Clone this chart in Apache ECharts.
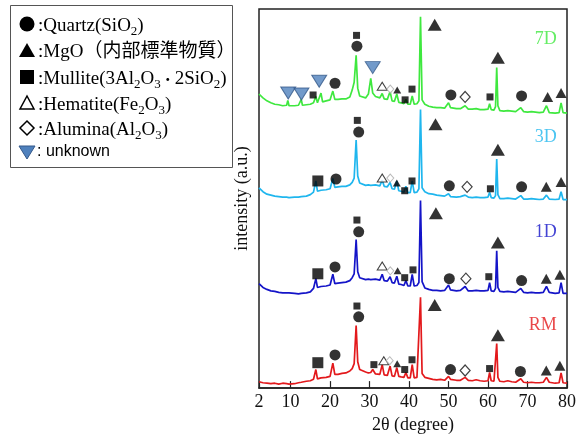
<!DOCTYPE html>
<html><head><meta charset="utf-8">
<script src="https://cdn.jsdelivr.net/npm/echarts@6/dist/echarts.min.js"></script>
<style>html,body{margin:0;padding:0;background:#fff}#c{width:579px;height:439px}</style>
</head><body><div id="c"></div>
<script>
// 2θ sample positions shared by every pattern
const twoTheta = [2,3,4,5,6,7,8,9,9.3,9.6,
 10,11,12,12.7,13,14,15,15.8,16.4,16.8,
 17.3,17.7,18.1,19,20,20.7,21.2,22,23,24,
 25,25.6,26.1,26.6,27.0,27.5,28,29,29.7,30.3,
 30.8,31.5,32,32.6,33.2,33.7,34.5,35.2,35.7,36.3,
 36.9,37.4,38,38.7,39.2,39.7,40.3,40.8,41.3,42,
 42.5,42.9,43.3,44,45,46,47,48,49,50,
 50.5,51,52,53,54.2,55,56,57,58,59,
 60,60.4,60.8,61.5,61.9,62.2,62.5,63,64,65,
 66,67,68.3,69,70,71,72,73,74,74.8,
 75.5,76,77,78,78.5,79,80];

const intensityRM = [6.5,5.5,5,4.5,5,4,5,4.5,5,4,
 5,4.5,5.5,6,5.5,7,7.5,9,19,9.5,
 10,10.5,10,11,12,25.5,14,14,15,15.5,
 17.5,20,25,64,27,19,17.5,16.5,15.5,16,
 19,14.5,14.5,14,24,13.5,13,22.5,12.5,12,
 21,12,11.5,11,16,10.5,10.5,24,10.5,11,
 13,93,15,11,10,9,8.5,9,8,12,
 9,8.5,8,8,11,8,7.5,8.5,7.5,7,
 7.5,16,7.5,7,9,45.5,11,7,6.5,7.5,
 6.5,6,9.5,6,5.5,6,5.5,5.5,6,11,
 6,5.5,5,5.5,15.5,5.5,5];

const intensity1D = [15,11,9,7.5,7,6,5.5,5.5,5,5.5,
 5,5,4.5,5,5,5.5,6.5,10,20,11,
 11.5,12,11.5,12.5,13.5,24.5,15,15.5,16,16.5,
 18,21,25,60,27,21,19.5,19,19.5,19,
 20,19.5,19,18.5,24.5,18,17.5,22,16,15.5,
 22.5,14.5,14,13,18,12.5,12.5,24.5,12.5,13,
 16,100,17,10.5,9,8,8,7.5,8,13.5,
 8.5,8,7.5,8,12,7.5,7.5,8,7.5,7.5,
 8,16,7.5,7,10,48.5,11,7,6.5,7,
 6.5,6,10,6,5.5,6,5.5,5.5,6,12,
 6,5.5,5,5.5,16,5,5];

const intensity3D = [19,15,12.5,11.5,10.5,10,9.5,9.5,10,9,
 9.5,9.5,9.5,10,10,10.5,12,14.5,26,15.5,
 16,16.5,16,17,18,28.5,19.5,20,20.5,20.5,
 22,24.5,29,68,31,24,22,21.5,22,21.5,
 22.5,22,21.5,21,27,20.5,20,24.5,18,17.5,
 26,16,15.5,14.5,20.5,14,14,26,14,14.5,
 18,99,19,15,13,12.5,11.5,11,10.5,13,
 10,9.5,9.5,10,11.5,9.5,9,9.5,9,9,
 9.5,14.5,9,8.5,11,48.5,12,8,8,8.5,
 8,7.5,11,7.5,7.5,8,7.5,7,7.5,11.5,
 7.5,7,7,7.5,15,7,7];

const intensity7D = [21,17,14,12,10.5,10,9,9.5,14.5,9,
 8.5,9,9.5,15.5,9.5,10,10.5,12,18.5,12,
 13,22,13,14,15,24,15.5,15.5,16,16,
 18,25,33,60.5,27,19,17.5,17,21,37,
 22,18.5,17.5,17,21.5,16,15.5,23.5,14,13.5,
 21,12.5,12,11,15.5,10.5,10.5,19,10.5,11,
 14,100,15,10.5,8.5,7.5,7,7,6.5,12,
 7,6.5,6,6,9,5.5,5.5,6,5,5,
 5.5,11,5,4.5,8,48,9,4,3.5,4,
 3.5,3,7,3,2.5,3,2.5,2,2.5,9,
 2,2,1.5,2,12,2,1.5];

const sampleNames = ['RM','1D','3D','7D'];
const sampleOffsets = [0, 92, 186, 280];
const sampleLabelLevel = [64, 67, 71, 77];
const sampleColors = ['#e3191c','#1414c8','#1fb6ee','#3fe83f'];

// phase markers: [2θ, height above own baseline, kind]
const marksRM = [[16.9,26,'sq'],[21.25,34,'ci'],[26.8,84,'sqs'],[27.25,73,'ci'],[31.1,24,'sqs'],
 [33.6,28,'otr'],[35.1,28,'dis'],[37,25,'trs'],[38.9,19,'sqs'],[40.75,29,'sqs'],
 [46.5,85,'tr'],[50.5,19,'ci'],[54.2,18,'di'],[60.4,20,'sqs'],[62.5,54,'tr'],
 [68.2,17,'ci'],[74.75,18,'trm'],[78.2,23,'trm']];
const marks1D = [[16.9,25,'sq'],[21.25,32,'ci'],[26.8,80,'sqs'],[27.25,68,'ci'],
 [33.2,33,'otr'],[35.25,28,'dis'],[37.1,28,'trs'],[38.9,21,'sqs'],[41,29,'sqs'],
 [46.8,87,'tr'],[50.2,20,'ci'],[54.4,20,'di'],[60.2,22,'sqs'],[62.5,57,'tr'],
 [68.5,18,'ci'],[74.75,20,'trm'],[78.2,24,'trm']];
const marks3D = [[16.9,26,'sq'],[21.5,28,'ci'],[26.9,88,'sqs'],[27.25,76,'ci'],
 [33.2,29,'otr'],[35.25,29,'dis'],[36.9,24,'trs'],[38.9,16,'sqs'],[40.75,26,'sqs'],
 [46.7,84,'tr'],[50.2,21,'ci'],[54.7,20,'di'],[60.6,18,'sqs'],[62.5,58,'tr'],
 [68.5,20,'ci'],[74.75,20,'trm'],[78.5,25,'trm']];
const marks7D = [[9.4,22,'unk'],[12.75,21,'unk'],[17.25,34,'unk'],[30.8,48,'unk'],
 [15.7,20,'sqs'],[21.25,32,'ci'],[26.7,81,'sqs'],[26.8,70,'ci'],
 [33.2,29,'otr'],[35.25,26,'dis'],[37,25,'trs'],[39,15,'sqs'],[40.75,26,'sqs'],
 [46.5,92,'tr'],[50.6,20,'ci'],[54.2,18,'di'],[60.5,18,'sqs'],[62.5,58,'tr'],
 [68.5,19,'ci'],[75.1,18,'trm'],[78.5,22,'trm']];

// legend entries ({s|n} = subscript, {d|・} = narrow middle dot)
const legendLines = [
  ':Quartz(SiO{s|2})',
  ':MgO（内部標準物質）',
  ':Mullite(3Al{s|2}O{s|3}{d|・}2SiO{s|2})',
  ':Hematite(Fe{s|2}O{s|3})',
  ':Alumina(Al{s|2}O{s|3})',
  ': unknown'
];
const xTicks = [2,10,20,30,40,50,60,70,80];

const intensities = [intensityRM, intensity1D, intensity3D, intensity7D];
const marks = [marksRM, marks1D, marks3D, marks7D];

const kindStyle = {
  ci:  {symbol:'circle', size:11, fill:'#000', stroke:'#000', lw:0},
  tr:  {symbol:'triangle', size:[14,12], fill:'#000', stroke:'#000', lw:0},
  trm: {symbol:'triangle', size:[11,10], fill:'#000', stroke:'#000', lw:0},
  trs: {symbol:'triangle', size:[8,7], fill:'#000', stroke:'#000', lw:0},
  sq:  {symbol:'rect', size:11, fill:'#000', stroke:'#000', lw:0},
  sqs: {symbol:'rect', size:7, fill:'#000', stroke:'#000', lw:0},
  otr: {symbol:'triangle', size:[10,8], fill:'#fff', stroke:'#111', lw:1},
  dis: {symbol:'diamond', size:[7,8], fill:'#fff', stroke:'#aaa', lw:1},
  di:  {symbol:'diamond', size:[10,11], fill:'#fff', stroke:'#111', lw:1.2},
  unk: {symbol:'triangle', size:[15,12], fill:'#4f81bd', stroke:'#35598a', lw:1, rotate:180}
};

const serif = 'Liberation Serif, Noto Sans CJK JP, serif';
const series = [];
intensities.forEach((arr, s) => {
  series.push({
    type:'line', name:sampleNames[s], showSymbol:false, silent:true, z:2,
    lineStyle:{color:sampleColors[s], width:1.7},
    data: twoTheta.map((t,i)=>[t, arr[i] + sampleOffsets[s]])
  });
});
marks.forEach((list, s) => {
  series.push({
    type:'scatter', z:5, silent:true,
    data: list.map(m => {
      const k = kindStyle[m[2]];
      return {value:[m[0], m[1] + sampleOffsets[s]], symbol:k.symbol, symbolSize:k.size,
        symbolRotate:k.rotate||0,
        itemStyle:{color:k.fill, borderColor:k.stroke, borderWidth:k.lw}};
    })
  });
});
series.push({
  type:'scatter', z:6, silent:true, symbolSize:0,
  data: sampleNames.map((n,s)=>({value:[77.4, sampleLabelLevel[s] + sampleOffsets[s]], name:n,
    label:{show:true, position:'left', distance:0, formatter:n, color:sampleColors[s],
      fontFamily:serif, fontSize:18}}))
});

const legendY = [24, 50, 77, 103, 128, 152];
const graphic = [
  {type:'rect', shape:{x:10.5,y:5.5,width:222,height:162}, style:{fill:'#fff', stroke:'#555', lineWidth:1}},
  {type:'circle', shape:{cx:27, cy:legendY[0], r:7.5}, style:{fill:'#000'}},
  {type:'polygon', shape:{points:[[19,legendY[1]+7],[35,legendY[1]+7],[27,legendY[1]-7]]}, style:{fill:'#000'}},
  {type:'rect', shape:{x:20, y:legendY[2]-7, width:14, height:14}, style:{fill:'#000'}},
  {type:'polygon', shape:{points:[[20,legendY[3]+6],[34,legendY[3]+6],[27,legendY[3]-7]]}, style:{fill:'#fff', stroke:'#000', lineWidth:1.5}},
  {type:'polygon', shape:{points:[[27,legendY[4]-7],[34,legendY[4]],[27,legendY[4]+7],[20,legendY[4]]]}, style:{fill:'#fff', stroke:'#000', lineWidth:1.5}},
  {type:'polygon', shape:{points:[[19,legendY[5]-6],[35,legendY[5]-6],[27,legendY[5]+7]]}, style:{fill:'#4f81bd', stroke:'#35598a', lineWidth:1}}
];
legendLines.forEach((t,i)=>{
  const isSans = i===5;
  graphic.push({type:'text', x: isSans ? 37 : 38, y:legendY[i] + (isSans ? 0 : 2),
    style:{text:t, fill:'#000',
      fontFamily: isSans ? 'Liberation Sans, sans-serif' : serif,
      fontSize: isSans ? 16 : 19, lineHeight: 22,
      verticalAlign:'middle', align:'left',
      rich:{
        s:{fontFamily:serif, fontSize:13, verticalAlign:'top', padding:[10,0,0,0], lineHeight:14},
        d:{fontFamily:'Noto Sans CJK JP, sans-serif', fontSize:14, verticalAlign:'middle', lineHeight:22}
      }}});
});

const chart = echarts.init(document.getElementById('c'), null, {renderer:'canvas'});
chart.setOption({
  animation:false,
  backgroundColor:'#fff',
  grid:{left:259, right:10, top:9, bottom:42, show:true, borderColor:'#222', borderWidth:1.5, backgroundColor:'transparent'},
  xAxis:{type:'value', min:2, max:80,
    name:'2θ (degree)', nameLocation:'middle', nameGap:22,
    nameTextStyle:{fontFamily:serif, fontSize:18, color:'#111'},
    axisLine:{show:true, lineStyle:{color:'#222', width:1.5}},
    axisTick:{show:true, inside:true, length:7, customValues:xTicks, lineStyle:{color:'#222', width:1.2}},
    axisLabel:{customValues:xTicks, fontFamily:serif, fontSize:18, color:'#111', margin:5},
    splitLine:{show:false}},
  yAxis:{type:'value', min:0, max:388,
    name:'intensity (a.u.)', nameLocation:'middle', nameGap:8, nameRotate:90,
    nameTextStyle:{fontFamily:serif, fontSize:18, color:'#111'},
    axisLine:{show:false}, axisTick:{show:false}, axisLabel:{show:false}, splitLine:{show:false}},
  series: series,
  graphic: graphic
});
</script></body></html>
